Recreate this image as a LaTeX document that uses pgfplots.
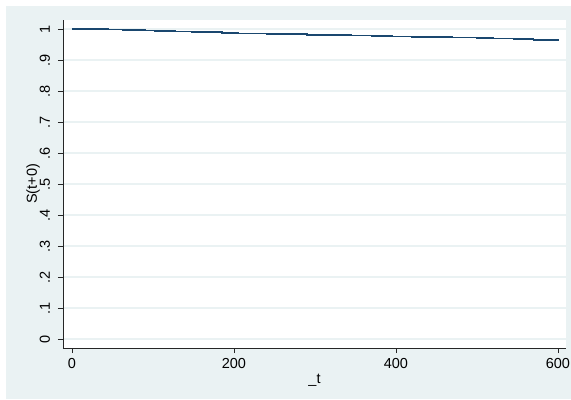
\documentclass[border=0pt]{standalone}
\usepackage{fontspec}
\setmainfont{Liberation Sans}
\usepackage{pgfplots}
\pgfplotsset{compat=1.18}

\definecolor{statabg}{HTML}{EAF2F3}
\definecolor{statanavy}{HTML}{1A476F}

\begin{document}
\begin{tikzpicture}
\useasboundingbox (-63bp,-52bp) rectangle (508bp,348bp);
\fill[statabg] (-57bp,-51bp) rectangle (508bp,342bp);
\begin{axis}[
  scale only axis,
  width=503bp, height=328bp,
  axis background/.style={fill=white},
  xmin=-11.1, xmax=610,
  ymin=-0.029, ymax=1.029,
  axis x line*=bottom, axis y line*=left,
  axis line style={black!85, line width=0.8bp},
  tick align=outside,
  major tick length=5bp,
  tick style={black!85, line width=0.8bp},
  xtick={0,200,400,600},
  ytick={0,0.1,0.2,0.3,0.4,0.5,0.6,0.7,0.8,0.9,1},
  yticklabels={0,.1,.2,.3,.4,.5,.6,.7,.8,.9,1},
  ymajorgrids,
  grid style={statabg, line width=1.4bp},
  /pgf/number format/assume math mode=true,
  tick label style={font=\fontsize{14.5bp}{16bp}\selectfont},
  label style={font=\fontsize{14.5bp}{16bp}\selectfont},
  yticklabel style={rotate=90, anchor=south},
  yticklabel shift=4.5bp,
  xticklabel shift=2bp,
  xlabel={\_t},
  ylabel={S(t+0)},
  xlabel style={at={(axis description cs:0.5,-0.0976)}, anchor=center},
  ylabel style={at={(axis description cs:-0.0596,0.5)}, anchor=center},
]
\addplot[const plot, statanavy, line width=1.6bp] coordinates {
  (0,1.000) (20,0.9995) (45,0.9985) (63,0.997) (90,0.9955) (102,0.994)
  (127,0.9925) (148,0.991) (170,0.9895) (185,0.988) (205,0.986)
  (240,0.9845) (272,0.983) (290,0.9815) (320,0.980) (345,0.979)
  (370,0.9775) (395,0.976) (420,0.975) (440,0.9735) (470,0.972)
  (500,0.9705) (520,0.969) (545,0.967) (570,0.965) (600,0.9635)
};
\end{axis}
\end{tikzpicture}
\end{document}
